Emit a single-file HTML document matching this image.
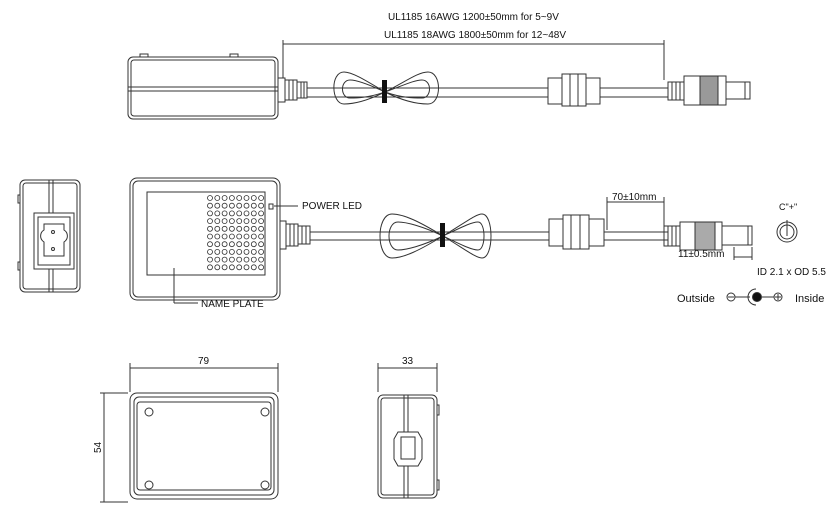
<!DOCTYPE html>
<html><head><style>body{margin:0;background:#fff}svg{display:block}text{font-family:"Liberation Sans",sans-serif;fill:#111}</style></head><body>
<svg width="831" height="520" viewBox="0 0 831 520" xmlns="http://www.w3.org/2000/svg" fill="none" stroke="#333" stroke-width="1">
<!-- TOP VIEW -->
<text x="388" y="20" font-size="10" stroke="none">UL1185 16AWG 1200±50mm for 5~9V</text>
<text x="384" y="38" font-size="10" stroke="none">UL1185 18AWG 1800±50mm for 12~48V</text>
<line x1="283" y1="44" x2="664" y2="44"/><line x1="283" y1="40" x2="283" y2="78"/><line x1="664" y1="40" x2="664" y2="80"/>
<rect x="128" y="57" width="150" height="62" rx="5"/><rect x="131" y="60" width="144" height="56" rx="3"/>
<line x1="128" y1="87" x2="278" y2="87"/><line x1="128" y1="91" x2="278" y2="91"/>
<rect x="140" y="54" width="8" height="3"/><rect x="230" y="54" width="8" height="3"/>
<rect x="278" y="78" width="7" height="24"/>
<path d="M285 80h12v20h-12zM289 80v20M293 80v20"/><path d="M297 82h10v16h-10zM301 82v16M304 82v16"/>
<line x1="307" y1="88" x2="548" y2="88"/><line x1="307" y1="97" x2="548" y2="97"/>
<line x1="600" y1="88" x2="668" y2="88"/><line x1="600" y1="97" x2="668" y2="97"/>
<path d="M385 92 C365 80,352 72,344 72 C330 72,331 104,344 104 C352 104,365 102,385 92 C405 82,418 72,428 72 C442 72,442 104,428 104 C418 104,405 102,385 92Z"/>
<path d="M385 92 C368 84,356 80,350 80 C340 80,340 98,350 98 C356 98,368 98,385 92 C402 86,414 80,422 80 C432 80,432 98,422 98 C414 98,402 98,385 92"/>
<rect x="382" y="80" width="5" height="23" fill="#111" stroke="none"/>
<rect x="548" y="78" width="14" height="26"/><rect x="562" y="74" width="24" height="32"/><rect x="586" y="78" width="14" height="26"/>
<line x1="570" y1="74" x2="570" y2="106"/><line x1="578" y1="74" x2="578" y2="106"/>
<rect x="668" y="82" width="16" height="18"/><line x1="672" y1="82" x2="672" y2="100"/><line x1="676" y1="82" x2="676" y2="100"/><line x1="680" y1="82" x2="680" y2="100"/>
<rect x="684" y="76" width="42" height="29"/><rect x="700" y="76" width="18" height="29" fill="#999"/>
<rect x="726" y="82" width="24" height="17"/><line x1="745" y1="82" x2="745" y2="99"/>
<!-- MIDDLE -->
<rect x="20" y="180" width="60" height="112" rx="5"/><rect x="23" y="183" width="54" height="106" rx="3"/>
<line x1="49" y1="180" x2="49" y2="292"/><line x1="53" y1="180" x2="53" y2="292"/>
<rect x="34" y="213" width="40" height="56" fill="#fff"/><rect x="38" y="217" width="32" height="48"/>
<path d="M44 224h20v6a7 7 0 0 1 0 12v14h-20v-14a7 7 0 0 1 0-12z"/>
<circle cx="53" cy="232" r="1.5"/><circle cx="53" cy="249" r="1.5"/>
<rect x="18" y="195" width="2" height="8"/><rect x="18" y="262" width="2" height="8"/>
<rect x="130" y="178" width="150" height="122" rx="7"/><rect x="133" y="181" width="144" height="116" rx="5"/>
<rect x="147" y="192" width="118" height="83"/>
<g id="dots" stroke-width="0.8"></g>
<rect x="269" y="204" width="4" height="5"/>
<line x1="274" y1="206" x2="298" y2="206"/>
<text x="302" y="209" font-size="10" stroke="none">POWER LED</text>
<line x1="174" y1="268" x2="174" y2="303"/><line x1="174" y1="303" x2="198" y2="303"/>
<text x="201" y="307" font-size="10" stroke="none">NAME PLATE</text>
<rect x="280" y="221" width="6" height="28"/>
<path d="M286 224h12v22h-12zM290 224v22M294 224v22"/><path d="M298 226h12v18h-12zM302 226v18M306 226v18"/>
<line x1="310" y1="232" x2="549" y2="232"/><line x1="310" y1="240" x2="549" y2="240"/>
<line x1="604" y1="232" x2="668" y2="232"/><line x1="604" y1="240" x2="668" y2="240"/>
<path d="M443 236 C420 222,404 214,392 214 C376 214,376 258,392 258 C404 258,420 250,443 236 C466 222,476 214,482 214 C494 214,494 258,482 258 C476 258,466 250,443 236Z"/>
<path d="M443 236 C422 226,406 222,398 222 C386 222,386 250,398 250 C406 250,422 246,443 236 C464 226,472 222,478 222 C486 222,486 250,478 250 C472 250,464 246,443 236"/>
<rect x="440" y="223" width="5" height="24" fill="#111" stroke="none"/>
<rect x="549" y="219" width="14" height="27"/><rect x="563" y="215" width="26" height="34"/><rect x="589" y="219" width="15" height="27"/>
<line x1="571" y1="215" x2="571" y2="249"/><line x1="580" y1="215" x2="580" y2="249"/>
<line x1="607" y1="197" x2="607" y2="230"/><line x1="664" y1="197" x2="664" y2="226"/><line x1="607" y1="202" x2="664" y2="202"/>
<text x="612" y="200" font-size="10" stroke="none">70±10mm</text>
<rect x="664" y="226" width="16" height="20"/><line x1="668" y1="226" x2="668" y2="246"/><line x1="672" y1="226" x2="672" y2="246"/><line x1="676" y1="226" x2="676" y2="246"/>
<rect x="680" y="222" width="42" height="28"/><rect x="695" y="222" width="20" height="28" fill="#aaa"/>
<rect x="722" y="226" width="30" height="19"/><line x1="748" y1="226" x2="748" y2="245"/>
<line x1="734" y1="247" x2="734" y2="260"/><line x1="752" y1="247" x2="752" y2="260"/><line x1="734" y1="257" x2="752" y2="257"/>
<text x="678" y="257" font-size="10" stroke="none">11±0.5mm</text>
<text x="779" y="210" font-size="9" stroke="none">C"+"</text>
<circle cx="787" cy="232" r="10"/><circle cx="787" cy="232" r="7"/><line x1="787" y1="220" x2="787" y2="236"/>
<text x="757" y="275" font-size="10" stroke="none">ID 2.1 x OD 5.5</text>
<text x="677" y="302" font-size="11" stroke="none">Outside</text>
<circle cx="731" cy="297" r="4"/><line x1="728" y1="297" x2="734" y2="297"/><line x1="735" y1="297" x2="750" y2="297"/>
<path d="M756 289a8 8 0 1 0 0 16"/><circle cx="757" cy="297" r="4.5" fill="#111"/>
<line x1="762" y1="297" x2="774" y2="297"/><circle cx="778" cy="297" r="4"/><line x1="775" y1="297" x2="781" y2="297"/><line x1="778" y1="294" x2="778" y2="300"/>
<text x="795" y="302" font-size="11" stroke="none">Inside</text>
<!-- BOTTOM -->
<line x1="130" y1="363" x2="130" y2="392"/><line x1="278" y1="363" x2="278" y2="392"/><line x1="130" y1="368" x2="278" y2="368"/>
<text x="198" y="364" font-size="10" stroke="none">79</text>
<line x1="100" y1="393" x2="128" y2="393"/><line x1="100" y1="502" x2="128" y2="502"/><line x1="104" y1="393" x2="104" y2="502"/>
<text x="0" y="0" font-size="10" stroke="none" transform="translate(101,453) rotate(-90)">54</text>
<rect x="130" y="393" width="148" height="106" rx="7"/><rect x="134" y="397" width="140" height="98" rx="5"/><rect x="137" y="402" width="134" height="88" rx="3"/>
<circle cx="149" cy="412" r="4"/><circle cx="265" cy="412" r="4"/><circle cx="149" cy="485" r="4"/><circle cx="265" cy="485" r="4"/>
<line x1="378" y1="363" x2="378" y2="392"/><line x1="437" y1="363" x2="437" y2="392"/><line x1="378" y1="368" x2="437" y2="368"/>
<text x="402" y="364" font-size="10" stroke="none">33</text>
<rect x="378" y="395" width="59" height="103" rx="5"/><rect x="381" y="398" width="53" height="97" rx="3"/>
<line x1="404" y1="395" x2="404" y2="498"/><line x1="408" y1="395" x2="408" y2="498"/>
<path d="M398 432h20l4 7v20l-4 7h-20l-4-7v-20z" fill="#fff"/><rect x="401" y="437" width="14" height="22"/>
<rect x="437" y="405" width="2" height="10"/><rect x="437" y="480" width="2" height="10"/>
</svg>
<script>
var g=document.getElementById('dots'),s='';
for(var r=0;r<10;r++)for(var c=0;c<8;c++)s+='<circle cx="'+(210+c*7.3)+'" cy="'+(198+r*7.7)+'" r="2.5" fill="none" stroke="#333"/>';
g.innerHTML=s;
</script>
</body></html>
